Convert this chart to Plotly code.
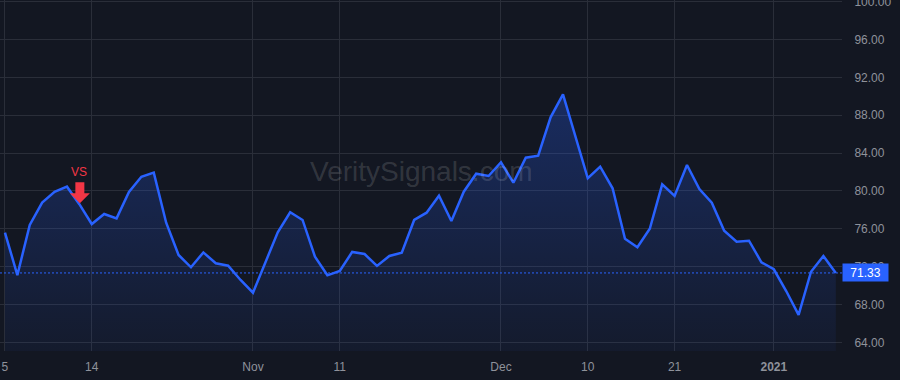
import plotly.graph_objects as go

# ---------------- data ----------------
dates = [
    "2020-10-05", "2020-10-06", "2020-10-07", "2020-10-08", "2020-10-09",
    "2020-10-12", "2020-10-13", "2020-10-14", "2020-10-15", "2020-10-16",
    "2020-10-19", "2020-10-20", "2020-10-21", "2020-10-22", "2020-10-23",
    "2020-10-26", "2020-10-27", "2020-10-28", "2020-10-29", "2020-10-30",
    "2020-11-02", "2020-11-03", "2020-11-04", "2020-11-05", "2020-11-06",
    "2020-11-09", "2020-11-10", "2020-11-11", "2020-11-12", "2020-11-13",
    "2020-11-16", "2020-11-17", "2020-11-18", "2020-11-19", "2020-11-20",
    "2020-11-23", "2020-11-24", "2020-11-25", "2020-11-27", "2020-11-30",
    "2020-12-01", "2020-12-02", "2020-12-03", "2020-12-04", "2020-12-07",
    "2020-12-08", "2020-12-09", "2020-12-10", "2020-12-11", "2020-12-14",
    "2020-12-15", "2020-12-16", "2020-12-17", "2020-12-18", "2020-12-21",
    "2020-12-22", "2020-12-23", "2020-12-24", "2020-12-28", "2020-12-29",
    "2020-12-30", "2020-12-31", "2021-01-04", "2021-01-05", "2021-01-06",
    "2021-01-07", "2021-01-08", "2021-01-11",
]
values = [
    75.60, 71.10, 76.40, 78.76, 79.90, 80.45, 78.60, 76.50, 77.56, 77.10,
    79.90, 81.50, 81.93, 76.64, 73.23, 71.93, 73.50, 72.35, 72.10, 70.59,
    69.24, 72.35, 75.63, 77.74, 76.93, 73.05, 71.08, 71.54, 73.55, 73.33,
    72.07, 73.12, 73.47, 76.93, 77.70, 79.50, 76.82, 79.92, 81.82, 81.58,
    83.03, 80.87, 83.51, 83.73, 87.78, 90.20, 85.80, 81.34, 82.56, 80.28,
    74.95, 74.04, 76.00, 80.70, 79.47, 82.74, 80.20, 78.76, 75.80, 74.63,
    74.74, 72.46, 71.72, 69.42, 66.89, 71.46, 73.12, 71.33,
]
tick_dates = ["2020-10-05", "2020-10-14", "2020-11-02", "2020-11-11",
              "2020-12-01", "2020-12-10", "2020-12-21", "2021-01-04"]
tick_labels = ["5", "14", "Nov", "11", "Dec", "10", "21", "<b>2021</b>"]
price_ticks = [64, 68, 72, 76, 80, 84, 88, 92, 96, 100]
marker_date = "2020-10-13"
marker_text = "VS"
watermark = "VeritySignals.com"

# ---------------- style ----------------
BG = "#131722"
GRID = "#2a2e39"
TXT = "#8f929b"
BLUE = "#2962ff"
RED = "#f23645"
FONT = "Liberation Sans, Arial, sans-serif"

y_lo, y_hi = 63.08, 100.18
last = values[-1]

fig = go.Figure()
fig.add_trace(go.Scatter(
    x=dates, y=values, mode="lines",
    line=dict(color=BLUE, width=2.5),
    fill="tozeroy",
    fillgradient=dict(
        type="vertical", start=y_lo, stop=max(values),
        colorscale=[[0, "rgba(41,98,255,0.05)"], [1, "rgba(41,98,255,0.28)"]],
    ),
    hoverinfo="skip", showlegend=False,
))

# last-price dashed line
fig.add_shape(type="line", xref="paper", x0=0, x1=1, yref="y", y0=last, y1=last,
              line=dict(color=BLUE, width=1, dash="2px,2px"))

# marker arrow (pixel-sized path anchored at the data point)
mi = dates.index(marker_date)
fig.add_shape(type="path", xref="x", yref="y",
              xsizemode="pixel", ysizemode="pixel",
              xanchor=mi, yanchor=values[mi],
              path="M 0.5,1 L -9.5,11 L -4,11 L -4,22 L 5,22 L 5,11 L 10.5,11 Z",
              fillcolor=RED, line=dict(width=0))

annotations = [
    dict(x=mi, y=values[mi], xref="x", yref="y", text=marker_text,
         showarrow=False, yshift=32, font=dict(family=FONT, size=12, color=RED)),
    dict(x=0.5, y=0.51, xref="paper", yref="paper", text=watermark,
         showarrow=False, font=dict(family=FONT, size=28, color="rgba(255,255,255,0.14)")),
    dict(x=1, y=last, xref="paper", yref="y", text=f"{last:.2f}",
         showarrow=False, xanchor="left", yanchor="middle",
         bgcolor=BLUE, width=41, height=13, borderpad=2, align="center",
         font=dict(family=FONT, size=12, color="#ffffff")),
]

fig.update_layout(
    width=900, height=380,
    margin=dict(l=0, r=58, t=0, b=29),
    paper_bgcolor=BG, plot_bgcolor=BG,
    font=dict(family=FONT, size=12, color=TXT),
    annotations=annotations,
    showlegend=False,
    hovermode=False,
)
fig.update_xaxes(
    type="category", range=[-0.40, len(dates) - 0.5],
    tickmode="array", tickvals=tick_dates, ticktext=tick_labels,
    showgrid=True, gridcolor=GRID, gridwidth=1,
    ticks="outside", ticklen=5, tickcolor="rgba(0,0,0,0)",
    zeroline=False, showline=False, automargin=False,
    tickfont=dict(family=FONT, size=12, color=TXT),
)
fig.update_yaxes(
    side="right", range=[y_lo, y_hi],
    tickmode="array", tickvals=price_ticks,
    ticktext=[f"{v:.2f}" for v in price_ticks],
    showgrid=True, gridcolor=GRID, gridwidth=1,
    ticks="outside", ticklen=9, tickcolor="rgba(0,0,0,0)",
    ticklabeloverflow="allow", automargin=False,
    zeroline=False, showline=False,
    tickfont=dict(family=FONT, size=12, color=TXT),
)

fig.write_html("out.html")
